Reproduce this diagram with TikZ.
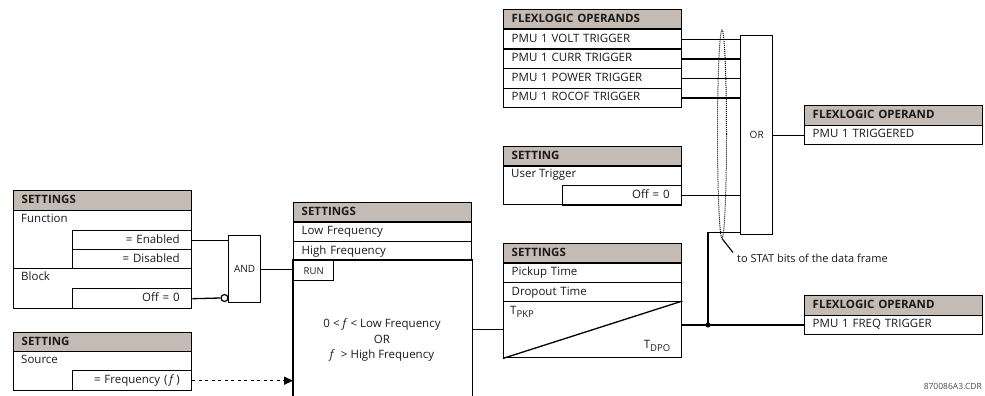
\documentclass[tikz,border=0pt]{standalone}
\usepackage{fontspec}
\setmainfont{Open Sans}
\usetikzlibrary{arrows.meta,calc,shapes.geometric}
\definecolor{cHead}{HTML}{C4BCB4}
\definecolor{cInk}{HTML}{1A1A1A}
\newcommand{\tsub}[1]{T\raisebox{-3pt}{\fontsize{9.5}{10}\selectfont #1}}
\tikzset{
  every node/.style={text=cInk},
  cell/.style={draw=black, line width=1.4pt, anchor=north west, inner xsep=8pt, inner ysep=0pt,
               text width=162pt, minimum height=#1, align=left, text height=8.5pt, text depth=2.5pt,
               font=\fontsize{11.5}{13}\selectfont},
  cell/.default=19.5pt,
  hd/.style={cell, fill=cHead, font=\fontsize{11.5}{13}\selectfont\bfseries},
  sub/.style={cell, inner xsep=12pt, text width=95pt, align=right},
  grp/.style 2 args={cell=#1, label={[txtlbl]north west:#2}},
  txtlbl/.style={anchor=north west, inner xsep=8pt, inner ysep=4.25pt, text height=8.5pt,
                 text depth=2.5pt, font=\fontsize{11.5}{13}\selectfont},
  gate/.style={draw=black, line width=1.4pt, anchor=north west, minimum width=32pt, minimum height=#1,
               inner sep=0pt, font=\fontsize{10}{11}\selectfont},
  wire/.style={line width=1.3pt},
}

\begin{document}
\begin{tikzpicture}[x=1pt, y=-1pt,
   run/.style={draw=black, line width=1.4pt, anchor=north west, minimum width=40pt, minimum height=20pt,
               inner sep=0pt, font=\fontsize{9.5}{10}\selectfont},
   bub/.style={circle, draw=black, line width=1.2pt, fill=white, minimum size=7pt, inner sep=0pt},
   cond/.style={align=center, font=\fontsize{11.5}{15.5}\selectfont}]
  \useasboundingbox (0,0) rectangle (985,396);
  % function / block settings
  \node[hd] (fnH) at (13,190) {SETTINGS};
  \node[grp={58pt}{Function}] (fn) at (13,210) {};
  \node[sub, minimum height=19pt] (en) at (72,230) {= Enabled};
  \node[sub, minimum height=19pt] (dis) at (72,249) {= Disabled};
  \node[grp={40pt}{Block}] (blk) at (13,268) {};
  \node[sub, minimum height=20pt] (off) at (72,288) {Off = 0};
  % source
  \node[hd, minimum height=19pt] (srcH) at (13,332) {SETTING};
  \node[grp={39pt}{Source}] (src) at (13,351) {};
  \node[sub, minimum height=20pt] (srcf) at (72,370) {= Frequency (\,\textit{f}\,)};
  \node[gate=67pt] (and) at (228,235) {AND};
  \node[bub] (inv) at (224.5,298) {};
  % frequency comparator
  \node[hd] (cmpH) at (293,202) {SETTINGS};
  \node[cell] (lo) at (293,221) {Low Frequency};
  \node[cell, minimum height=19pt] (hi) at (293,241) {High Frequency};
  \node[cell, draw=none, minimum height=136pt] (cmp) at (293,260) {};
  \draw[line width=1.4pt] (cmp.south west) -- (cmp.north west) -- (cmp.north east) -- (cmp.south east);
  \node[run] (run) at (293,260) {RUN};
  \node[cond] (cnd) at (382,340) {0 < \textit{f} < Low Frequency\\OR\\\textit{f}~ > High Frequency};
  % pickup / dropout timer
  \node[hd] (tmH) at (503,243) {SETTINGS};
  \node[cell] (pk) at (503,262) {Pickup Time};
  \node[cell, minimum height=19pt] (dp) at (503,282) {Dropout Time};
  \node[cell, minimum height=56pt] (tmr) at (503,301) {};
  \draw[wire] (tmr.south west) -- (tmr.north east);
  \node[anchor=north west, inner xsep=7pt, inner ysep=5pt, font=\fontsize{11.5}{12}\selectfont] (tpk) at (tmr.north west) {\tsub{PKP}};
  \node[anchor=south east, inner xsep=12pt, inner ysep=7pt, font=\fontsize{11.5}{12}\selectfont] (tdp) at (tmr.south east) {\tsub{DPO}};
  % trigger operands
  \node[hd] (opH) at (503,9) {FLEXLOGIC OPERANDS};
  \node[cell] (v1) at (503,29) {PMU 1 VOLT TRIGGER};
  \node[cell] (v2) at (503,48.5) {PMU 1 CURR TRIGGER};
  \node[cell] (v3) at (503,68) {PMU 1 POWER TRIGGER};
  \node[cell] (v4) at (503,87.5) {PMU 1 ROCOF TRIGGER};
  \node[hd] (utH) at (503,146) {SETTING};
  \node[grp={39pt}{User Trigger}] (ut) at (503,165) {};
  \node[sub] (utoff) at (562,185) {Off = 0};
  \node[gate=199pt] (or) at (740,35) {OR};
  % outputs
  \node[hd] (trH) at (804,105) {FLEXLOGIC OPERAND};
  \node[cell] (trg) at (804,124.5) {PMU 1 TRIGGERED};
  \node[hd] (fqH) at (804,295) {FLEXLOGIC OPERAND};
  \node[cell] (ftrg) at (804,314.5) {PMU 1 FREQ TRIGGER};
  % STAT bits
  \node[draw=black, densely dotted, ellipse, line width=1pt, minimum width=9pt, minimum height=208pt,
        inner sep=0pt] (bus) at (722,134) {};
  \node[anchor=west, inner sep=2pt, font=\fontsize{11}{12}\selectfont] (stat) at (735,258) {to STAT bits of the data frame};
  \draw[line width=1.1pt] (bus.south) -- ($(stat.north west)+(-2,1)$);
  \node[anchor=south east, inner sep=0pt, font=\fontsize{8.5}{9}\selectfont, text=black!70] (cdr) at (982,390) {870086A3.CDR};

  \draw[wire] (en.east) -- (en.east -| and.west);
  \draw[wire] (off.east) -- (inv.west);
  \draw[wire] (and.east) -- (and.east -| run.west);
  \draw[wire, dash pattern=on 3pt off 3.5pt, -{Triangle[length=9pt,width=8pt]}] (srcf.east) -- (srcf.east -| cmp.west);
  \draw[wire] (cmp.east |- tmr.west) -- (tmr.west);
  \draw[wire] (ftrg.west -| tmr.east) -- (ftrg.west);
  \foreach \r in {v1,v2,v3,v4,utoff} \draw[wire] (\r.east) -- (\r.east -| or.west);
  \draw[wire] (or.east) -- (or.east -| trg.west);
  \coordinate (jn) at (ftrg.west -| 708,0);
  \draw[wire] (jn) |- ($(or.south west)+(0,-3)$);
  \fill (jn) circle (2.6pt);
\end{tikzpicture}
\end{document}
